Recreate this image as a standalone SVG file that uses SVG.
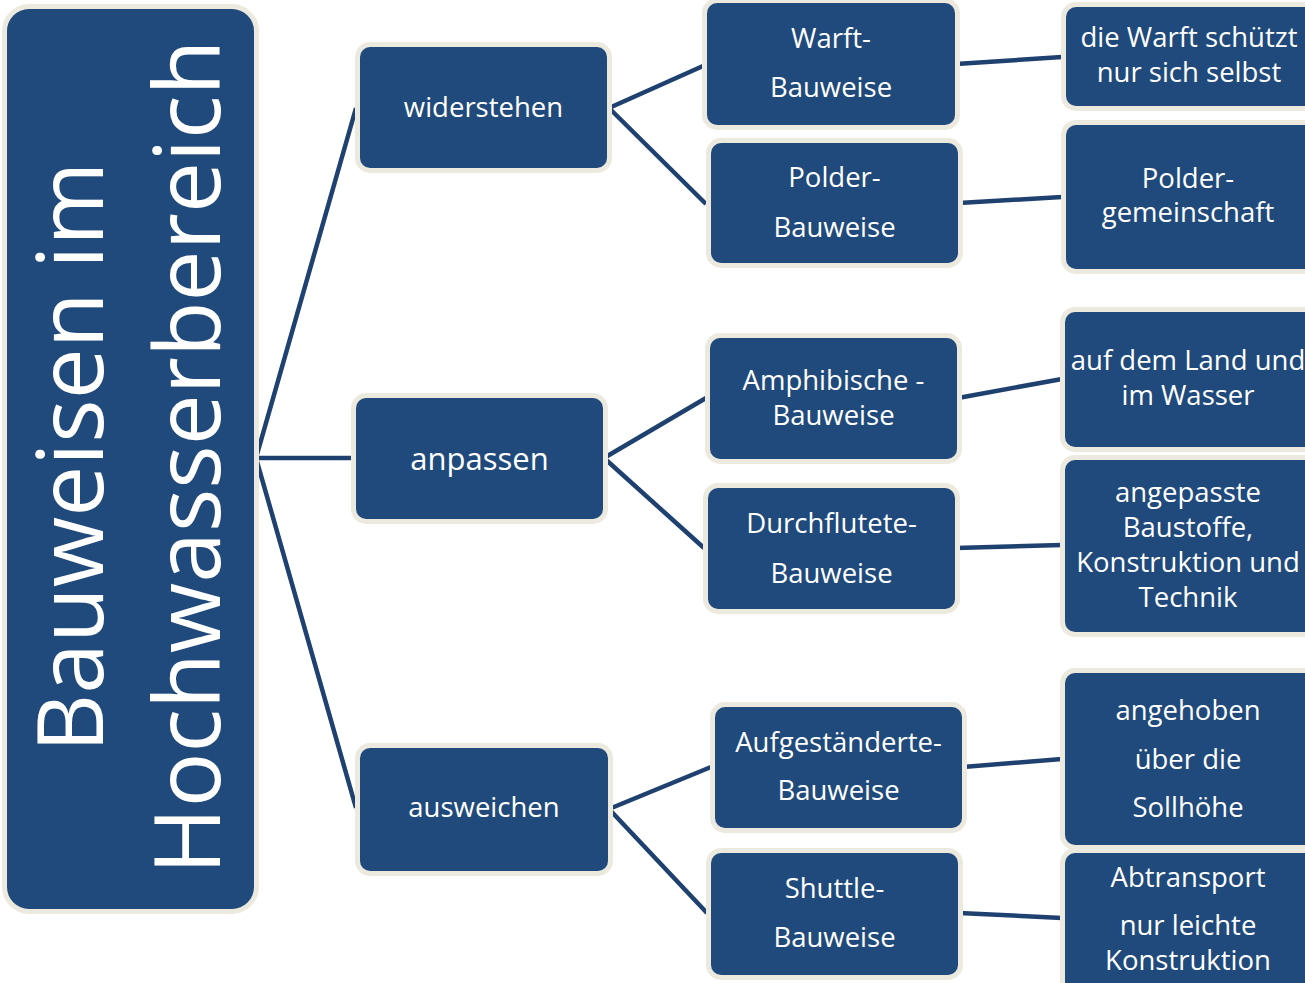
<svg xmlns="http://www.w3.org/2000/svg" width="1305" height="983" viewBox="0 0 1305 983">
<style>
.box{fill:#204A7C;stroke:#ECEADF;stroke-width:10;paint-order:stroke}
.t{font-family:"Open Sans","Noto Sans","Liberation Sans",sans-serif;fill:#FFFFFF;text-anchor:middle;font-size:27.5px}
.root{font-size:91px}
.big{font-size:31px}
.c line{stroke:#1F4170;stroke-width:4.5;stroke-linecap:butt}
</style>
<rect width="1305" height="983" fill="#FFFFFF"/>
<g id="connectors" class="c">
<line x1="256" y1="458" x2="356" y2="108"/>
<line x1="256" y1="458" x2="352" y2="458"/>
<line x1="256" y1="458" x2="356" y2="808"/>
<line x1="609" y1="108" x2="703" y2="66"/>
<line x1="609" y1="108" x2="706" y2="204"/>
<line x1="604" y1="458" x2="706" y2="398"/>
<line x1="604" y1="458" x2="704" y2="548"/>
<line x1="609" y1="809" x2="711" y2="767"/>
<line x1="609" y1="809" x2="707" y2="913"/>
<line x1="956" y1="64" x2="1062" y2="57"/>
<line x1="959" y1="203" x2="1062" y2="197"/>
<line x1="958" y1="398" x2="1062" y2="379"/>
<line x1="956" y1="548" x2="1062" y2="545"/>
<line x1="963" y1="767" x2="1062" y2="759"/>
<line x1="959" y1="913" x2="1062" y2="918"/>
</g>
<g id="n-root">
<rect class="box" x="7" y="9" width="247" height="900" rx="22"/>
<text class="t root" transform="translate(103,457) rotate(-90)">Bauweisen im</text>
<text class="t root" transform="translate(220,457) rotate(-90)">Hochwasserbereich</text>
</g>
<g id="n-widerstehen">
<rect class="box" x="360" y="47" width="247" height="121" rx="10"/>
<text class="t" x="483.5" y="117">widerstehen</text>
</g>
<g id="n-anpassen">
<rect class="box" x="356" y="398" width="247" height="121" rx="10"/>
<text class="t big" x="479.5" y="470">anpassen</text>
</g>
<g id="n-ausweichen">
<rect class="box" x="360" y="748" width="248" height="123" rx="10"/>
<text class="t" x="484" y="817">ausweichen</text>
</g>
<g id="n-warft">
<rect class="box" x="707" y="3" width="248" height="122" rx="10"/>
<text class="t" x="831" y="48">Warft-</text>
<text class="t" x="831" y="97">Bauweise</text>
</g>
<g id="n-polder">
<rect class="box" x="711" y="143" width="247" height="120" rx="10"/>
<text class="t" x="834.5" y="187">Polder-</text>
<text class="t" x="834.5" y="237">Bauweise</text>
</g>
<g id="n-amphibisch">
<rect class="box" x="710" y="338" width="247" height="121" rx="10"/>
<text class="t" x="833.5" y="390">Amphibische -</text>
<text class="t" x="833.5" y="425">Bauweise</text>
</g>
<g id="n-durchflutet">
<rect class="box" x="708" y="488" width="247" height="121" rx="10"/>
<text class="t" x="831.5" y="533">Durchflutete-</text>
<text class="t" x="831.5" y="583">Bauweise</text>
</g>
<g id="n-aufgestaendert">
<rect class="box" x="715" y="707" width="247" height="121" rx="10"/>
<text class="t" x="838.5" y="752">Aufgeständerte-</text>
<text class="t" x="838.5" y="800">Bauweise</text>
</g>
<g id="n-shuttle">
<rect class="box" x="711" y="853" width="247" height="122" rx="10"/>
<text class="t" x="834.5" y="898">Shuttle-</text>
<text class="t" x="834.5" y="947">Bauweise</text>
</g>
<g id="n-warft-info">
<rect class="box" x="1066" y="7" width="250" height="99" rx="10"/>
<text class="t" x="1189" y="47">die Warft schützt</text>
<text class="t" x="1189" y="82">nur sich selbst</text>
</g>
<g id="n-polder-info">
<rect class="box" x="1066" y="125" width="250" height="144" rx="10"/>
<text class="t" x="1188" y="188">Polder-</text>
<text class="t" x="1188" y="222">gemeinschaft</text>
</g>
<g id="n-amphibisch-info">
<rect class="box" x="1065" y="312" width="250" height="135" rx="10"/>
<text class="t" x="1188" y="370">auf dem Land und</text>
<text class="t" x="1188" y="405">im Wasser</text>
</g>
<g id="n-durchflutet-info">
<rect class="box" x="1065" y="460" width="250" height="172" rx="10"/>
<text class="t" x="1188" y="502">angepasste</text>
<text class="t" x="1188" y="537">Baustoffe,</text>
<text class="t" x="1188" y="572">Konstruktion und</text>
<text class="t" x="1188" y="607">Technik</text>
</g>
<g id="n-aufgestaendert-info">
<rect class="box" x="1065" y="673" width="250" height="172" rx="10"/>
<text class="t" x="1188" y="720">angehoben</text>
<text class="t" x="1188" y="769">über die</text>
<text class="t" x="1188" y="817">Sollhöhe</text>
</g>
<g id="n-shuttle-info">
<rect class="box" x="1065" y="853" width="250" height="150" rx="10"/>
<text class="t" x="1188" y="887">Abtransport</text>
<text class="t" x="1188" y="935">nur leichte</text>
<text class="t" x="1188" y="970">Konstruktion</text>
</g>
</svg>
